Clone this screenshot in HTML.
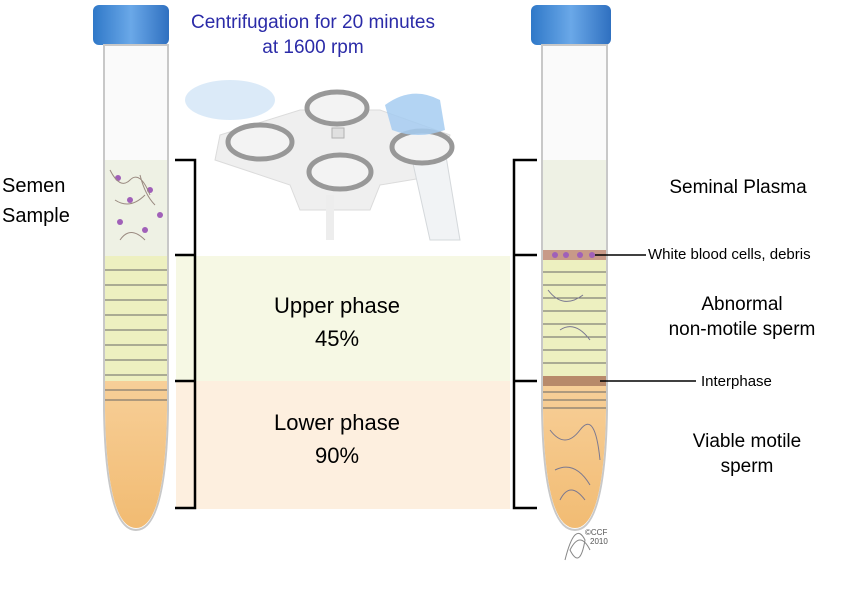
<!DOCTYPE html>
<html><head><style>
body{margin:0;background:#fff;}
svg{display:block;font-family:"Liberation Sans",sans-serif;}
</style></head><body>
<svg width="850" height="613" viewBox="0 0 850 613">
<defs>
<linearGradient id="cap" x1="0" x2="1"><stop offset="0" stop-color="#2f78c8"/><stop offset=".5" stop-color="#6aa8e8"/><stop offset="1" stop-color="#2f70c0"/></linearGradient>
<linearGradient id="orng" x1="0" x2="0" y1="0" y2="1"><stop offset="0" stop-color="#f7cf98"/><stop offset="1" stop-color="#f1b96e"/></linearGradient>
<clipPath id="tubeL"><path d="M105 45 H167 V410 Q165 528 136 528 Q107 528 105 410 Z"/></clipPath>
<clipPath id="tubeR"><path d="M543 45 H606 V410 Q604 528 575 528 Q545 528 543 410 Z"/></clipPath>
</defs>
<rect x="176" y="256" width="334" height="125" fill="#f6f8e4"/>
<rect x="176" y="381" width="334" height="128" fill="#fdefdf"/>
<g opacity="0.9">
<ellipse cx="230" cy="100" rx="45" ry="20" fill="#bcd8f2" opacity=".6"/>
<path d="M220 135 L300 110 L380 110 L450 135 L440 175 L380 185 L370 210 L300 210 L290 185 L215 160 Z" fill="#eeeeee" stroke="#d8d8d8"/>
<rect x="326" y="195" width="8" height="45" fill="#ececec"/>
<path d="M410 150 L445 150 L460 240 L430 240 Z" fill="#f0f2f4" stroke="#d0d4d8"/>
<ellipse cx="260" cy="142" rx="32" ry="17" fill="#f2f2f2" stroke="#8d8d8d" stroke-width="5"/>
<ellipse cx="337" cy="108" rx="30" ry="16" fill="#f2f2f2" stroke="#8d8d8d" stroke-width="5"/>
<ellipse cx="340" cy="172" rx="31" ry="17" fill="#f2f2f2" stroke="#8d8d8d" stroke-width="5"/>
<ellipse cx="422" cy="147" rx="30" ry="16" fill="#f2f2f2" stroke="#8d8d8d" stroke-width="5"/>
<rect x="332" y="128" width="12" height="10" fill="#ddd" stroke="#aaa"/>
<path d="M385 105 Q412 85 440 100 L445 130 Q418 140 392 130 Z" fill="#9cc7f0" opacity=".85"/>
</g>
<rect x="93" y="5" width="76" height="40" rx="6" fill="url(#cap)"/>
<path d="M104 45 H168 V410 Q166 530 136 530 Q106 530 104 410 Z" fill="#fafafa" stroke="#c8c8c8" stroke-width="2"/>
<g clip-path="url(#tubeL)">
<rect x="100" y="160" width="75" height="96" fill="#eef1e4"/>
<rect x="100" y="256" width="75" height="125" fill="#edf0c0"/>
<rect x="100" y="381" width="75" height="160" fill="url(#orng)"/>
<g stroke="#666" stroke-width="1">
<line x1="104" y1="270" x2="168" y2="270"/><line x1="104" y1="285" x2="168" y2="285"/><line x1="104" y1="300" x2="168" y2="300"/><line x1="104" y1="315" x2="168" y2="315"/><line x1="104" y1="330" x2="168" y2="330"/><line x1="104" y1="345" x2="168" y2="345"/><line x1="104" y1="360" x2="168" y2="360"/><line x1="104" y1="375" x2="168" y2="375"/><line x1="104" y1="390" x2="168" y2="390"/><line x1="104" y1="400" x2="168" y2="400"/>
</g>
<g fill="#a060b8"><circle cx="118" cy="178" r="3"/><circle cx="130" cy="200" r="3"/><circle cx="150" cy="190" r="3"/><circle cx="120" cy="222" r="3"/><circle cx="145" cy="230" r="3"/><circle cx="160" cy="215" r="3"/></g>
<path d="M110 170 q10 20 20 10 t20 15 M115 200 q15 10 30 -5 M120 240 q10 -15 25 0 M140 175 q5 20 15 30" stroke="#9a8a80" fill="none"/>
</g>
<rect x="531" y="5" width="80" height="40" rx="6" fill="url(#cap)"/>
<path d="M542 45 H607 V410 Q605 530 575 530 Q544 530 542 410 Z" fill="#fafafa" stroke="#c8c8c8" stroke-width="2"/>
<g clip-path="url(#tubeR)">
<rect x="540" y="160" width="70" height="90" fill="#eef1e4"/>
<rect x="540" y="250" width="70" height="10" fill="#c89a88"/>
<rect x="540" y="260" width="70" height="116" fill="#edf0c0"/>
<rect x="540" y="376" width="70" height="10" fill="#b88a6a"/>
<rect x="540" y="386" width="70" height="160" fill="url(#orng)"/>
<g stroke="#666" stroke-width="1">
<line x1="542" y1="272" x2="607" y2="272"/><line x1="542" y1="285" x2="607" y2="285"/><line x1="542" y1="298" x2="607" y2="298"/><line x1="542" y1="311" x2="607" y2="311"/><line x1="542" y1="324" x2="607" y2="324"/><line x1="542" y1="337" x2="607" y2="337"/><line x1="542" y1="350" x2="607" y2="350"/><line x1="542" y1="363" x2="607" y2="363"/><line x1="542" y1="392" x2="607" y2="392"/><line x1="542" y1="400" x2="607" y2="400"/><line x1="542" y1="408" x2="607" y2="408"/>
</g>
<g fill="#a060b8"><circle cx="555" cy="255" r="3"/><circle cx="566" cy="255" r="3"/><circle cx="580" cy="255" r="3"/><circle cx="592" cy="255" r="3"/></g>
<path d="M550 430 q15 20 30 0 t20 30 M555 470 q20 -10 35 15 M560 500 q10 -20 25 0 M548 290 q15 20 35 5 M560 330 q15 -10 30 10" stroke="#7a7890" fill="none"/>
</g>
<g stroke="#000" stroke-width="2.5" fill="none">
<path d="M175 160 H195 V508 H175 M175 255 H195 M175 381 H195"/>
<path d="M537 160 H514 V508 H537 M514 255 H537 M514 381 H537"/>
</g>
<g stroke="#000" stroke-width="1.5">
<line x1="595" y1="255" x2="646" y2="255"/>
<line x1="600" y1="381" x2="696" y2="381"/>
</g>
<g fill="#2b2ba8" font-size="19" text-anchor="middle">
<text x="313" y="28">Centrifugation for 20 minutes</text>
<text x="313" y="53">at 1600 rpm</text>
</g>
<g fill="#000" font-size="20">
<text x="2" y="192">Semen</text><text x="2" y="222">Sample</text>
</g>
<g fill="#000" font-size="22" text-anchor="middle">
<text x="337" y="313">Upper phase</text><text x="337" y="346">45%</text>
<text x="337" y="430">Lower phase</text><text x="337" y="463">90%</text>
</g>
<g fill="#000" font-size="19" text-anchor="middle">
<text x="738" y="193">Seminal Plasma</text>
<text x="742" y="310">Abnormal</text><text x="742" y="335">non-motile sperm</text>
<text x="747" y="447">Viable motile</text><text x="747" y="472">sperm</text>
</g>
<text x="648" y="259" font-size="15">White blood cells, debris</text>
<text x="701" y="386" font-size="15">Interphase</text>
<path d="M565 560 q10 -40 20 -20 q-5 30 -15 10 q10 -20 20 0" stroke="#888" fill="none"/>
<text x="585" y="535" font-size="8" fill="#555">©CCF</text>
<text x="590" y="544" font-size="8" fill="#555">2010</text>
</svg>
</body></html>
